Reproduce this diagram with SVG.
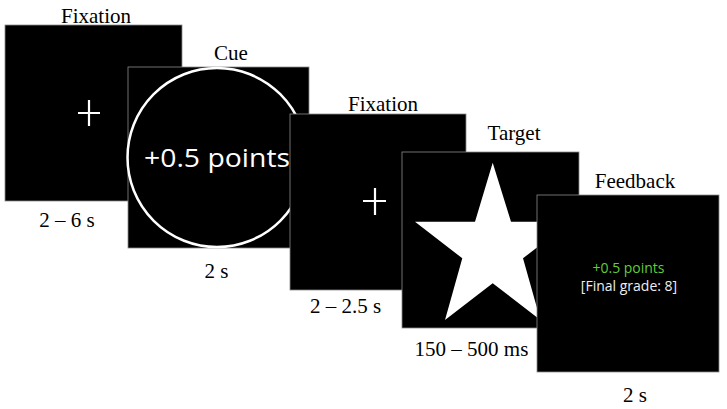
<svg xmlns="http://www.w3.org/2000/svg" width="727" height="409" viewBox="0 0 727 409">
<style>
.frame{fill:#000;stroke:#8a8a8a;stroke-width:0.8}
.lbl{font-family:"Liberation Serif","Times New Roman",serif;font-size:21px;fill:#000;text-anchor:middle}
.cross{stroke:#fff;stroke-width:2.2;fill:none}
.sans{font-family:"Open Sans","Noto Sans","Liberation Sans",sans-serif}
</style>
<rect width="727" height="409" fill="#fff"/>
<g id="fixation1">
<text class="lbl" x="96" y="22.5">Fixation</text>
<rect class="frame" x="5" y="25" width="177" height="176"/>
<path class="cross" d="M78 113H100M89 100V126"/>
<text class="lbl" x="67" y="227">2 – 6 s</text>
</g>
<g id="cue">
<text class="lbl" x="231" y="60">Cue</text>
<rect class="frame" x="128" y="67" width="181" height="181"/>
<circle cx="217" cy="157.5" r="89.5" fill="none" stroke="#fff" stroke-width="2.5"/>
<text class="sans" x="144" y="166.5" font-size="25.5" fill="#fff" textLength="146" lengthAdjust="spacingAndGlyphs">+0.5 points</text>
<text class="lbl" x="216.5" y="277.5">2 s</text>
</g>
<g id="fixation2">
<text class="lbl" x="383" y="111">Fixation</text>
<rect class="frame" x="290" y="114" width="176" height="176"/>
<path class="cross" d="M363 201H386M375 188V215"/>
<text class="lbl" x="345.5" y="313">2 – 2.5 s</text>
</g>
<g id="target">
<text class="lbl" x="514" y="140">Target</text>
<rect class="frame" x="402" y="152" width="177" height="176"/>
<polygon fill="#fff" points="492.7,162.7 511,221.7 570.4,221.7 523,258.3 540.4,320 492.7,283.3 445,320 462.3,258.3 415,221.7 475,221.7"/>
<text class="lbl" x="471.5" y="356">150 – 500 ms</text>
</g>
<g id="feedback">
<text class="lbl" x="635" y="188">Feedback</text>
<rect class="frame" x="537" y="195" width="182" height="177"/>
<text class="sans" x="628.5" y="273" font-size="14" fill="#62cc38" text-anchor="middle">+0.5 points</text>
<text class="sans" x="629" y="291" font-size="14" fill="#eeeeee" text-anchor="middle">[Final grade: 8]</text>
<text class="lbl" x="635" y="401.5">2 s</text>
</g>
<g id="connectors"/>
</svg>
